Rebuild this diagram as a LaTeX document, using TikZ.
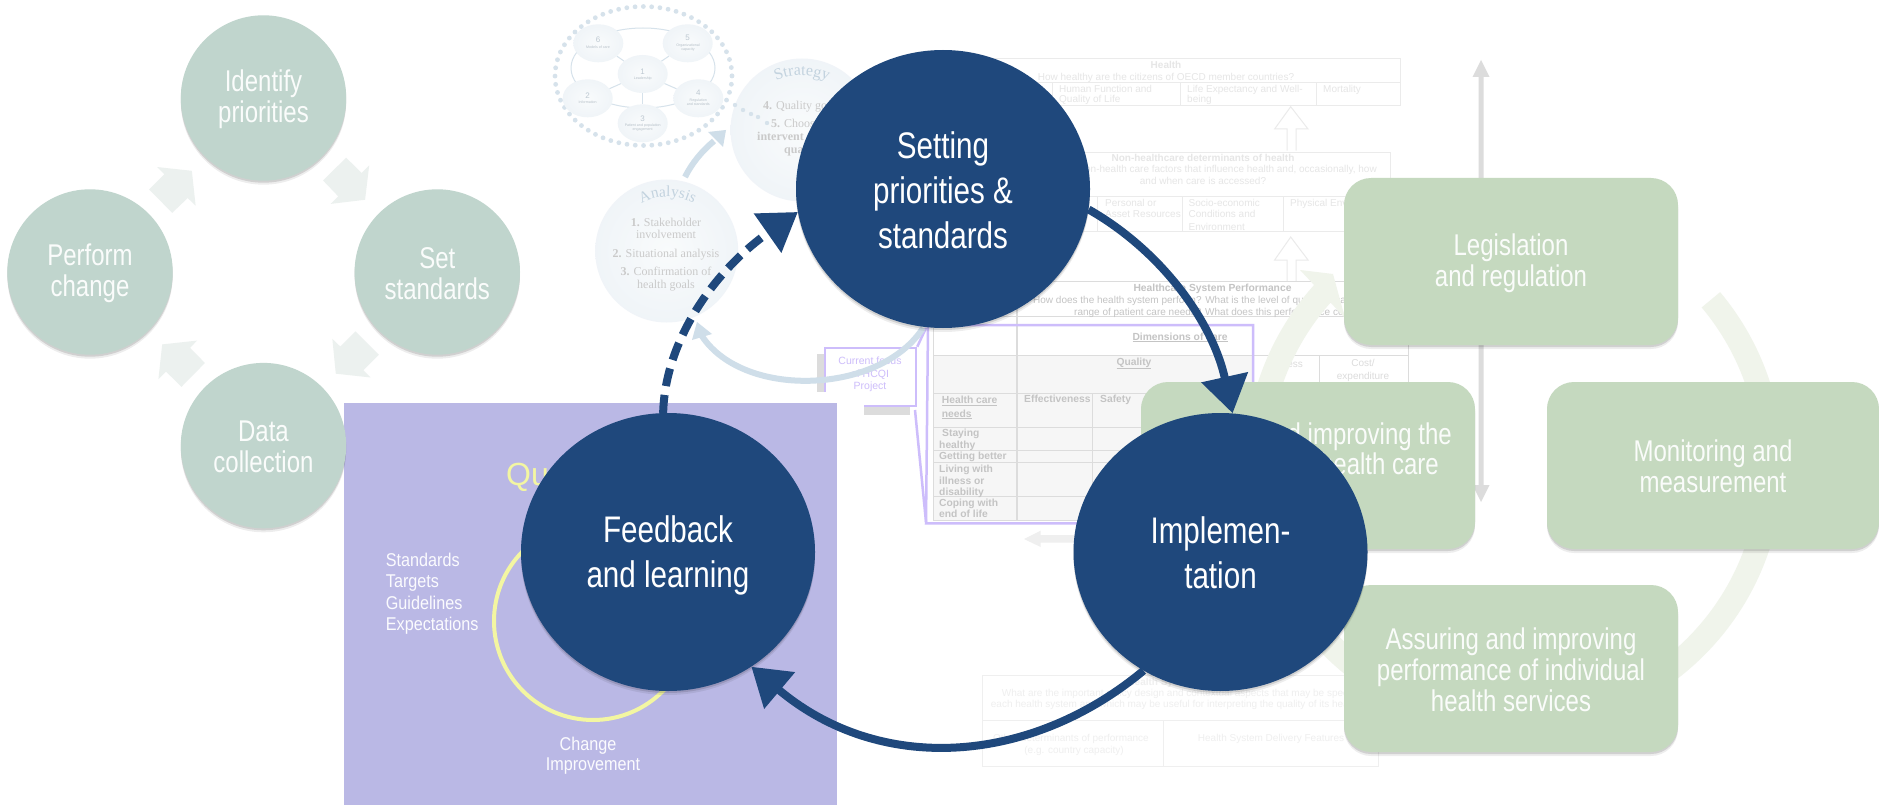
\documentclass[tikz,border=0pt]{standalone}
\usepackage{fontspec}
\setmainfont{Liberation Sans}
\newfontfamily\narf[FakeStretch=.8]{Liberation Sans}
\newfontfamily\midf[FakeStretch=.875]{Liberation Sans}
\newfontfamily\serf{Liberation Serif}
\usetikzlibrary{shapes.geometric,arrows.meta,shadows,decorations.text}
\definecolor{navy}{HTML}{1F487C}
\definecolor{sage}{HTML}{C0D5CD}
\definecolor{sagearrow}{HTML}{ECF1EF}
\definecolor{leaf}{HTML}{C5D9BF}
\definecolor{ringgreen}{HTML}{F0F4EB}
\definecolor{lav}{HTML}{BAB8E5}
\definecolor{yel}{HTML}{F3F6A2}
\definecolor{frame}{HTML}{CDBDFB}
\definecolor{paleblue}{HTML}{CFDEE9}
\definecolor{dotblue}{HTML}{D6E2EB}
\definecolor{ballrim}{HTML}{CEDCE7}
\definecolor{ballmid}{HTML}{EEF3F7}
\definecolor{ballcore}{HTML}{F9FBFC}
\definecolor{titleblue}{HTML}{C3D3DF}
\definecolor{ghost}{HTML}{E6E6E6}
\definecolor{ghostline}{HTML}{EBEBEB}
\definecolor{ghostb}{HTML}{EFEFEF}
\definecolor{ghostc}{HTML}{C4C4C4}
\definecolor{gridg}{HTML}{DCDCDC}
\definecolor{tablefill}{HTML}{F6F6F6}
\definecolor{serg}{HTML}{CACACA}
\pgfdeclareradialshading{softball}{\pgfpointorigin}{color(0bp)=(ballcore); color(30bp)=(ballmid); color(50bp)=(ballrim); color(100bp)=(ballrim)}
\pgfdeclareradialshading{softmini}{\pgfpointorigin}{color(0bp)=(ballcore); color(30bp)=(ballmid); color(50bp)=(dotblue); color(100bp)=(dotblue)}
\newcounter{tn}
\newcommand\lab[3][]{\stepcounter{tn}\node[txt,#1] (t\arabic{tn}) at (#2) {#3};}
\newcommand\bigstrutx{\vrule width 0pt height 33pt depth 5pt\relax}
\newcommand\smstrut{\vrule width 0pt height 24.5pt depth 1.5pt\relax}
\tikzset{
  txt/.style={inner sep=0pt,anchor=base west},
  cen/.style={anchor=base},
  rgt/.style={anchor=base east},
  fa/.style={font=\fontsize{10}{12}\selectfont,text=ghost},
  fab/.style={font=\fontsize{10}{12}\selectfont\bfseries,text=ghost},
  fb/.style={font=\fontsize{10}{12}\selectfont,text=ghostb},
  fbb/.style={font=\fontsize{10}{12}\selectfont\bfseries,text=ghostb},
  fc/.style={font=\fontsize{10}{12}\selectfont,text=ghostc},
  fcb/.style={font=\fontsize{10.3}{12}\selectfont\bfseries,text=ghostc},
  fser/.style={font=\serf\fontsize{12}{14}\selectfont,text=serg},
  fnote/.style={font=\midf\fontsize{18.5}{21}\selectfont,text=white!95!lav},
  ffocus/.style={font=\fontsize{10.5}{12}\selectfont,text=frame},
  tinytxt/.style={inner sep=0pt,font=\fontsize{3.6}{4.2}\selectfont,text=ballrim!70!gray,align=center},
  ball/.style={circle,inner sep=0pt,minimum size=143pt,shading=softball},
  minib/.style={ellipse,inner sep=0pt,minimum width=50pt,minimum height=38pt,shading=softmini,align=center},
  softshadow/.style={drop shadow={shadow xshift=0pt,shadow yshift=-2pt,opacity=.12,fill=black},
                     drop shadow={shadow xshift=0pt,shadow yshift=-4pt,opacity=.07,fill=black}},
  sagecircle/.style={circle,inner sep=0pt,minimum size=165.4pt,fill=sage,softshadow,text=white!92!sage,align=center,
                     font=\narf\fontsize{30}{31}\selectfont},
  leafbox/.style={rectangle,rounded corners=27pt,inner sep=0pt,minimum width=334pt,minimum height=167pt,fill=leaf,softshadow,
                     text=white!92!leaf,align=center,font=\narf\fontsize{30}{31}\selectfont},
  maincircle/.style={ellipse,inner sep=0pt,minimum width=294pt,minimum height=278pt,fill=navy,softshadow,text=white,align=center,
                     font=\narf\fontsize{37}{45}\selectfont},
  bluearrow/.style={navy,line width=8pt,-{Triangle[length=37pt,width=46pt]}},
  gridline/.style={gridg,line width=1pt},
  ghostbox/.style={ghostline,line width=1pt},
  hollow/.style={draw=ghostline,fill=white,line width=1pt},
  framed/.style={frame,line width=2.5pt},
  palearrow/.style={paleblue,line width=6pt},
}
\begin{document}
\begin{tikzpicture}[x=1pt,y=-1pt]
\useasboundingbox (0,0) rectangle (1879,805);
\fill[white] (0,0) rectangle (1879,805);

% ---------- faded quality framework table ----------
\draw[ghostbox] (932,59) rectangle (1400.5,106);
\draw[ghostbox] (932,83) -- (1400.5,83) (1052,83) -- (1052,106) (1180.5,83) -- (1180.5,106) (1316,83) -- (1316,106);
\lab[fab,cen]{1166,69}{Health}
\lab[fa,cen]{1166,80.7}{How healthy are the citizens of OECD member countries?}
\lab[fa]{1059,93}{Human Function and}
\lab[fa]{1059,103}{Quality of Life}
\lab[fa]{1187,93}{Life Expectancy and Well-}
\lab[fa]{1187,103}{being}
\lab[fa]{1323,93}{Mortality}

\draw[hollow] (1287,150.7) -- (1287,129) -- (1274.6,129) -- (1290.7,106.7) -- (1308,129) -- (1296,129) -- (1296,150.7);
\draw[ghostbox] (1015,152.7) rectangle (1390,231.7);
\draw[ghostbox] (1015,197) -- (1390,197) (1097.5,197) -- (1097.5,231.7) (1182,197) -- (1182,231.7) (1283,197) -- (1283,231.7);
\lab[fab,cen]{1203,162}{Non-healthcare determinants of health}
\lab[fa,rgt]{1377,173}{non-health care factors that influence health and, occasionally, how}
\lab[fa,cen]{1203,185}{and when care is accessed?}
\lab[fa]{1105,207}{Personal or}
\lab[fa]{1105,218}{Asset Resources}
\lab[fa]{1188.5,207}{Socio-economic}
\lab[fa]{1188.5,218}{Conditions and}
\lab[fa]{1188.5,230}{Environment}
\lab[fa]{1290,207}{Physical Environment}

\draw[hollow] (1287,281.7) -- (1287,260) -- (1274.6,260) -- (1290.7,237) -- (1308,260) -- (1296,260) -- (1296,281.7);

\fill[tablefill] (933,355) rectangle (1253,520);
\draw[gridline] (1017,281.7) -- (1408,281.7) (1017,316.7) -- (1408,316.7) (933,316.7) -- (1017,316.7);
\draw[gridline] (1408,281.7) -- (1408,500);
\draw[gridline] (933,355) -- (1408,355) (933,393.3) -- (1253,393.3) (933,427.3) -- (1253,427.3)
   (933,450) -- (1253,450) (933,462.7) -- (1253,462.7) (933,496.7) -- (1253,496.7) (933,520) -- (1253,520);
\draw[gridline] (933,316.7) -- (933,520) (1092.7,393.3) -- (1092.7,520) (1319,355) -- (1319,500);
\draw[gridg,line width=1.5pt] (1017,281.7) -- (1017,520);
\lab[fcb,cen]{1212.5,291.7}{Healthcare System Performance}
\lab[fc]{1033,303.3}{How does the health system perform? What is the level of quality of care across a}
\lab[fc]{1074,315}{range of patient care needs? What does this performance cost?}
\lab[fcb,cen]{1180,340}{\underline{Dimensions of care}}
\lab[fcb,cen]{1134,365}{\underline{Quality}}
\lab[fcb]{1024,402}{Effectiveness}
\lab[fcb]{1100,402}{Safety}
\lab[fa,rgt,text=gridg]{1303,367}{Access}
\lab[fa,cen,text=gridg]{1363,366}{Cost/}
\lab[fa,cen,text=gridg]{1363,379}{expenditure}
\lab[fcb]{941.7,403.3}{\underline{Health care}}
\lab[fcb]{941.7,417}{\underline{needs}}
\lab[fcb]{942,436.7}{Staying}
\lab[fcb]{939,448}{healthy}
\lab[fcb]{939,459}{Getting better}
\lab[fcb]{939,472.7}{Living with}
\lab[fcb]{939,484}{illness or}
\lab[fcb]{939,495}{disability}
\lab[fcb]{939,506.7}{Coping with}
\lab[fcb]{939,517.7}{end of life}

% purple frame and its callout
\draw[framed] (1253,390) -- (1253,325) -- (928,325) -- (926,523.3) -- (1120,523.3);
\fill[gridg] (817,354) rectangle (910,415);
\node[draw=frame,line width=2.5pt,fill=white,inner sep=0pt,minimum width=91pt,minimum height=58pt] (callout) at (870.5,377) {};
\lab[ffocus,cen]{870,364}{Current focus}
\lab[ffocus,cen]{870,377.3}{of HCQI}
\lab[ffocus,cen]{870,389}{Project}
\draw[framed] (callout.north east) -- (926,328);
\draw[framed] (915,410) -- (926,522);

% grey back arrow beneath the table
\fill[ghostb] (1100,535) -- (1040.7,535) -- (1040.7,530.7) -- (1024,539) -- (1040.7,547) -- (1040.7,542.7) -- (1100,542.7) -- cycle;

% bottom table
\draw[ghostb,line width=1pt] (982.7,675.7) rectangle (1378,766) (982.7,720.7) -- (1378,720.7) (1163,720.7) -- (1163,766);
\lab[fbb,cen]{1180,685}{Health System Design}
\lab[fb]{1001.7,696}{What are the important policy design and contextual aspects that may be specific to}
\lab[fb]{990.7,707}{each health system and which may be useful for interpreting the quality of its health}
\lab[fb,rgt]{1149,741.7}{Other determinants of performance}
\lab[fb,cen]{1074,753}{(e.g. country capacity)}
\lab[fb,cen]{1271,741.7}{Health System Delivery Features}

% grey double arrow
\fill[gridg] (1481,60) -- (1489.5,77) -- (1483.5,77) -- (1483.5,485) -- (1489.5,485) -- (1481,502) -- (1472.5,485) -- (1478.5,485) -- (1478.5,77) -- (1472.5,77) -- cycle;

% ---------- faded analysis / strategy picture ----------
\draw[dotblue,line width=4.8pt,line cap=round,dash pattern=on 0pt off 8.3pt] (643.5,76) ellipse [x radius=88.5,y radius=69.5];
\draw[dotblue,line width=1pt] (643,68) ellipse [x radius=72,y radius=40];
\node[minib] (m6) at (598.3,43.3) {};
\node[minib] (m5) at (687.7,43.3) {};
\node[minib] (m1) at (642.7,74) {};
\node[minib] (m2) at (587.7,98.3) {};
\node[minib] (m4) at (698.3,98.3) {};
\node[minib] (m3) at (642.7,123.3) {};
\foreach \a in {m2,m3,m4,m5,m6} \draw[dotblue,line width=1pt] (m1) -- (\a);
\node[tinytxt,text=ballrim!80!gray] (n6) at (598,39.5) {\fontsize{8}{8}\selectfont 6};
\node[tinytxt] (l6) at (598,47.5) {Models of care};
\node[tinytxt,text=ballrim!80!gray] (n5) at (687.7,37.5) {\fontsize{8}{8}\selectfont 5};
\node[tinytxt] (l5) at (688,47.5) {Organizational\\capacity};
\node[tinytxt,text=ballrim!80!gray] (n1) at (642.7,72) {\fontsize{8}{8}\selectfont 1};
\node[tinytxt] (l1) at (642.7,79) {Leadership};
\node[tinytxt,text=ballrim!80!gray] (n2) at (587.7,95.5) {\fontsize{8}{8}\selectfont 2};
\node[tinytxt] (l2) at (587.7,102.5) {Information};
\node[tinytxt,text=ballrim!80!gray] (n4) at (698.3,92.5) {\fontsize{8}{8}\selectfont 4};
\node[tinytxt] (l4) at (698.3,102) {Regulation\\and standards};
\node[tinytxt,text=ballrim!80!gray] (n3) at (642.7,118.5) {\fontsize{8}{8}\selectfont 3};
\node[tinytxt] (l3) at (642.7,127.5) {Patient and population\\engagement};

\node[ball] (strategy) at (802,130) {};
\node[ball] (analysis) at (666.7,251) {};
\foreach \px/\py in {735/105,743/110,751/114,758/117,767/123} \fill[dotblue] (\px,\py) circle [radius=2.2];
\path[decorate,decoration={text along path,text align=center,text={|\serf\fontsize{16}{16}\selectfont\color{titleblue}|Strategy}}] (772,83) .. controls (790,73) and (815,73) .. (832,83);
\path[decorate,decoration={text along path,text align=center,text={|\serf\fontsize{15.5}{16}\selectfont\color{titleblue}|Analysis}}] (639,205) .. controls (655,194) and (680,194) .. (696,205);
\lab[fser]{763,110}{\textbf{4.} Quality go}
\lab[fser]{771,128}{\textbf{5.} Choos}
\lab[fser]{757,141}{\textbf{intervent}}
\lab[fser]{784,154}{\textbf{qua}}
\lab[fser,cen]{666,226.7}{\textbf{1.} Stakeholder}
\lab[fser,cen]{666,239}{involvement}
\lab[fser,cen]{666,257}{\textbf{2.} Situational analysis}
\lab[fser,cen]{666,275}{\textbf{3.} Confirmation of}
\lab[fser,cen]{666,288}{health goals}

\coordinate (pa1) at (685,177);
\coordinate (pa2) at (714,141);
\draw[palearrow] (pa1) .. controls (692,163) and (702,151) .. (pa2);
\fill[paleblue] (708,132) -- (726,130) -- (723,147) -- cycle;
\coordinate (pb1) at (923,328);
\coordinate (pb2) at (700,333);
\draw[palearrow] (pb1) .. controls (880,395) and (740,400) .. (pb2);
\fill[paleblue] (697,322) -- (692,340) -- (712,334) -- cycle;

% white mask and lavender panel
\fill[white] (340,392) rectangle (864,805);
\fill[lav] (344.3,402.7) rectangle (837,805);
\draw[yel,line width=4pt] (593,621) circle [radius=99];
\lab[font=\fontsize{32}{36}\selectfont,text=yel]{506,485}{Qu}
\lab[fnote]{385.7,566}{Standards}
\lab[fnote]{385.7,587.5}{Targets}
\lab[fnote]{385.7,609}{Guidelines}
\lab[fnote]{385.7,630.7}{Expectations}
\lab[fnote,cen]{588,750}{Change}
\lab[fnote,cen]{593,770.7}{Improvement}

% ---------- left cycle ----------
\node[sagecircle] (identify) at (263.5,98) {Identify\smstrut\\priorities\smstrut};
\node[sagecircle] (setstd) at (437.3,272) {Set\smstrut\\standards\smstrut};
\node[sagecircle] (data) at (263.5,445.6) {Data\smstrut\\collection\smstrut};
\node[sagecircle] (perform) at (90,272) {Perform\smstrut\\change\smstrut};
\begin{scope}[x=0.3444pt,y=-0.3444pt]
\fill[sagearrow] (1005,458) -- (1050,502) -- (1072,480) -- (1060,580) -- (960,592) -- (982,570) -- (938,524) -- cycle;
\fill[sagearrow] (433,550) -- (477,506) -- (456,485) -- (557,496) -- (568,597) -- (545,575) -- (500,618) -- cycle;
\fill[sagearrow] (1100,1030) -- (1055,1075) -- (1076,1096) -- (975,1085) -- (965,984) -- (988,1006) -- (1032,962) -- cycle;
\fill[sagearrow] (595,1054) -- (552,1010) -- (572,989) -- (471,1000) -- (460,1101) -- (482,1079) -- (527,1123) -- cycle;
\end{scope}

% ---------- right cycle ----------
\draw[ringgreen,line width=24pt] (1514,465) ++(223:257) arc [start angle=223,end angle=-40,radius=257];
\fill[ringgreen] (1300,270) -- (1333,274) -- (1345,318) -- cycle;
\node[leafbox] (legis) at (1511,261.5) {Legislation\smstrut\\and regulation\smstrut};
\node[leafbox] (improve) at (1308,465.5) {};
\node[txt,rgt,text=white!92!leaf,font=\narf\fontsize{30}{31}\selectfont] (imp1) at (1452,444) {and improving the};
\node[txt,rgt,text=white!92!leaf,font=\narf\fontsize{30}{31}\selectfont] (imp2) at (1439,474) {health care};
\node[leafbox,minimum width=332pt] (monitor) at (1713,465.5) {Monitoring and\smstrut\\measurement\smstrut};
\node[leafbox] (assure) at (1511,668.5) {Assuring and improving\smstrut\\performance of individual\smstrut\\health services\smstrut};

% ---------- main cycle ----------
\node[maincircle] (setting) at (943,189) {Setting\bigstrutx\\priorities \&\bigstrutx\\standards\bigstrutx};
\node[maincircle] (impl) at (1220.5,552) {Implemen-\bigstrutx\\tation\bigstrutx};
\node[maincircle] (feedback) at (668,552) {Feedback\bigstrutx\\and learning\bigstrutx};
\draw[bluearrow] (setting.-8) .. controls (1160,250) and (1212,320) .. (impl.85);
\draw[bluearrow] (impl.237) .. controls (1030,765) and (880,775) .. (feedback.-54);
\draw[bluearrow,dash pattern=on 18pt off 9pt] (feedback.92) .. controls (665,340) and (715,270) .. (setting.189);
\end{tikzpicture}
\end{document}
